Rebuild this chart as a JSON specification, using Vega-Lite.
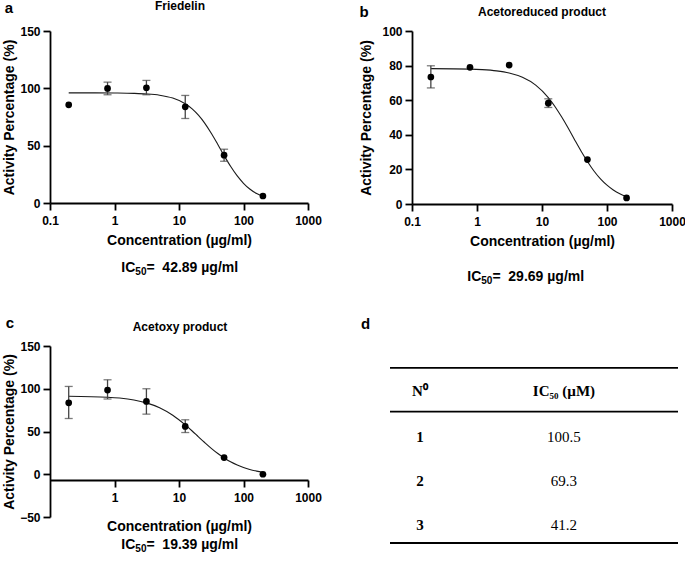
{
  "$schema": "https://vega.github.io/schema/vega-lite/v6.json",
  "padding": {"left": 2, "top": 0, "right": 0, "bottom": 0},
  "background": "white",
  "datasets": {
    "a": [
      {"kind": "fit", "conc": 0.195, "act": 96.0},
      {"kind": "fit", "conc": 0.5, "act": 96.0},
      {"kind": "fit", "conc": 1, "act": 95.9},
      {"kind": "fit", "conc": 2, "act": 95.6},
      {"kind": "fit", "conc": 3.125, "act": 95.1},
      {"kind": "fit", "conc": 5, "act": 94.0},
      {"kind": "fit", "conc": 8, "act": 91.5},
      {"kind": "fit", "conc": 12.5, "act": 86.6},
      {"kind": "fit", "conc": 16, "act": 82.1},
      {"kind": "fit", "conc": 20, "act": 76.6},
      {"kind": "fit", "conc": 25, "act": 69.7},
      {"kind": "fit", "conc": 32, "act": 60.4},
      {"kind": "fit", "conc": 40, "act": 51.0},
      {"kind": "fit", "conc": 50, "act": 41.4},
      {"kind": "fit", "conc": 63, "act": 32.0},
      {"kind": "fit", "conc": 80, "act": 23.6},
      {"kind": "fit", "conc": 100, "act": 17.2},
      {"kind": "fit", "conc": 125, "act": 12.2},
      {"kind": "fit", "conc": 160, "act": 8.2},
      {"kind": "fit", "conc": 200, "act": 5.65},
      {"kind": "obs", "conc": 0.195, "act": 85.6, "lo": null, "hi": null},
      {"kind": "obs", "conc": 0.78, "act": 99.9, "lo": 94.4, "hi": 105.4},
      {"kind": "obs", "conc": 3.125, "act": 100.5, "lo": 94.4, "hi": 106.9},
      {"kind": "obs", "conc": 12.5, "act": 83.9, "lo": 73.7, "hi": 93.8},
      {"kind": "obs", "conc": 50, "act": 41.7, "lo": 36.4, "hi": 46.9},
      {"kind": "obs", "conc": 200, "act": 6.1, "lo": null, "hi": null}
    ],
    "b": [
      {"kind": "fit", "conc": 0.195, "act": 78.26},
      {"kind": "fit", "conc": 0.78, "act": 77.97},
      {"kind": "fit", "conc": 1.2, "act": 77.67},
      {"kind": "fit", "conc": 2, "act": 76.95},
      {"kind": "fit", "conc": 3.125, "act": 75.7},
      {"kind": "fit", "conc": 5, "act": 73.2},
      {"kind": "fit", "conc": 8, "act": 68.7},
      {"kind": "fit", "conc": 12.5, "act": 61.5},
      {"kind": "fit", "conc": 16, "act": 56.1},
      {"kind": "fit", "conc": 20, "act": 50.4},
      {"kind": "fit", "conc": 25, "act": 44.2},
      {"kind": "fit", "conc": 32, "act": 36.9},
      {"kind": "fit", "conc": 40, "act": 30.5},
      {"kind": "fit", "conc": 50, "act": 24.6},
      {"kind": "fit", "conc": 63, "act": 19.1},
      {"kind": "fit", "conc": 80, "act": 14.4},
      {"kind": "fit", "conc": 100, "act": 10.9},
      {"kind": "fit", "conc": 125, "act": 8.1},
      {"kind": "fit", "conc": 160, "act": 5.8},
      {"kind": "fit", "conc": 200, "act": 4.2},
      {"kind": "obs", "conc": 0.195, "act": 73.4, "lo": 67.1, "hi": 79.9},
      {"kind": "obs", "conc": 0.78, "act": 79.0, "lo": null, "hi": null},
      {"kind": "obs", "conc": 3.125, "act": 80.3, "lo": null, "hi": null},
      {"kind": "obs", "conc": 12.5, "act": 58.3, "lo": 55.8, "hi": 60.8},
      {"kind": "obs", "conc": 50, "act": 25.7, "lo": null, "hi": null},
      {"kind": "obs", "conc": 200, "act": 3.5, "lo": null, "hi": null}
    ],
    "c": [
      {"kind": "fit", "conc": 0.195, "act": 91.3},
      {"kind": "fit", "conc": 0.78, "act": 90.1},
      {"kind": "fit", "conc": 1.2, "act": 89.1},
      {"kind": "fit", "conc": 2, "act": 86.9},
      {"kind": "fit", "conc": 3.125, "act": 83.5},
      {"kind": "fit", "conc": 5, "act": 77.8},
      {"kind": "fit", "conc": 8, "act": 69.0},
      {"kind": "fit", "conc": 12.5, "act": 57.7},
      {"kind": "fit", "conc": 16, "act": 50.6},
      {"kind": "fit", "conc": 20, "act": 43.8},
      {"kind": "fit", "conc": 25, "act": 37.1},
      {"kind": "fit", "conc": 32, "act": 30.0},
      {"kind": "fit", "conc": 40, "act": 24.2},
      {"kind": "fit", "conc": 50, "act": 19.1},
      {"kind": "fit", "conc": 63, "act": 14.6},
      {"kind": "fit", "conc": 80, "act": 10.8},
      {"kind": "fit", "conc": 100, "act": 7.9},
      {"kind": "fit", "conc": 125, "act": 5.6},
      {"kind": "fit", "conc": 160, "act": 3.7},
      {"kind": "fit", "conc": 200, "act": 2.3},
      {"kind": "obs", "conc": 0.195, "act": 83.6, "lo": 65.2, "hi": 102.7},
      {"kind": "obs", "conc": 0.78, "act": 98.4, "lo": 88.0, "hi": 110.5},
      {"kind": "obs", "conc": 3.125, "act": 85.2, "lo": 70.3, "hi": 100.0},
      {"kind": "obs", "conc": 12.5, "act": 55.9, "lo": 48.8, "hi": 63.7},
      {"kind": "obs", "conc": 50, "act": 19.5, "lo": null, "hi": null},
      {"kind": "obs", "conc": 200, "act": 0.0, "lo": null, "hi": null}
    ],
    "table": [
      {"No": "1", "IC50": "100.5"},
      {"No": "2", "IC50": "69.3"},
      {"No": "3", "IC50": "41.2"}
    ],
    "one": [{}]
  },
  "vconcat": [
    {
      "hconcat": [
        {
          "width": 258,
          "height": 172,
          "layer": [
            {"data": {"name": "a"}, "transform": [{"filter": "datum.kind === 'fit'"}],
             "mark": {"type": "line", "color": "#1a1a1a", "strokeWidth": 1.1, "interpolate": "monotone"},
             "encoding": {
               "x": {"field": "conc", "type": "quantitative", "scale": {"type": "log", "domain": [0.1, 1000], "nice": false},
                     "axis": {"values": [0.1, 1, 10, 100, 1000], "format": "~g", "title": "Concentration (µg/ml)", "titlePadding": 7}},
               "y": {"field": "act", "type": "quantitative", "scale": {"domain": [0, 150], "nice": false},
                     "axis": {"values": [0, 50, 100, 150], "title": "Activity Percentage (%)", "titlePadding": 3, "labelPadding": 3}}
             }},
            {"data": {"name": "a"}, "transform": [{"filter": "datum.kind === 'obs' && datum.lo != null"}],
             "mark": {"type": "errorbar", "color": "#444", "thickness": 1.3, "ticks": {"size": 8, "thickness": 1.3, "color": "#444"}},
             "encoding": {
               "x": {"field": "conc", "type": "quantitative", "axis": {"values": [0.1, 1, 10, 100, 1000], "format": "~g", "title": "Concentration (µg/ml)", "titlePadding": 7}},
               "y": {"field": "lo", "type": "quantitative", "axis": {"values": [0, 50, 100, 150], "title": "Activity Percentage (%)", "titlePadding": 3, "labelPadding": 3}},
               "y2": {"field": "hi"}}},
            {"data": {"name": "a"}, "transform": [{"filter": "datum.kind === 'obs'"}],
             "mark": {"type": "circle", "size": 45, "color": "#000", "opacity": 1},
             "encoding": {
               "x": {"field": "conc", "type": "quantitative", "axis": {"values": [0.1, 1, 10, 100, 1000], "format": "~g", "title": "Concentration (µg/ml)", "titlePadding": 7}},
               "y": {"field": "act", "type": "quantitative", "axis": {"values": [0, 50, 100, 150], "title": "Activity Percentage (%)", "titlePadding": 3, "labelPadding": 3}}}},
            {"data": {"name": "one"}, "mark": {"type": "text", "text": "a", "fontSize": 15, "fontWeight": "bold", "font": "Liberation Sans"},
             "encoding": {"x": {"datum": 0.0231, "type": "quantitative"}, "y": {"datum": 170, "type": "quantitative"}}},
            {"data": {"name": "one"}, "mark": {"type": "text", "text": "Friedelin", "fontSize": 12, "fontWeight": "bold", "font": "Liberation Sans"},
             "encoding": {"x": {"datum": 10.37, "type": "quantitative"}, "y": {"datum": 171.8, "type": "quantitative"}}},
            {"data": {"name": "one"}, "mark": {"type": "text", "text": "IC", "align": "left", "dx": -58.7, "fontSize": 14, "fontWeight": "bold", "font": "Liberation Sans"},
             "encoding": {"x": {"datum": 10.37, "type": "quantitative"}, "y": {"datum": -56.7, "type": "quantitative"}}},
            {"data": {"name": "one"}, "mark": {"type": "text", "text": "50", "align": "left", "dx": -44.7, "dy": 4, "fontSize": 10, "fontWeight": "bold", "font": "Liberation Sans"},
             "encoding": {"x": {"datum": 10.37, "type": "quantitative"}, "y": {"datum": -56.7, "type": "quantitative"}}},
            {"data": {"name": "one"}, "mark": {"type": "text", "text": "=\u00a0\u00a042.89 µg/ml", "align": "left", "dx": -33.6, "fontSize": 14, "fontWeight": "bold", "font": "Liberation Sans"},
             "encoding": {"x": {"datum": 10.37, "type": "quantitative"}, "y": {"datum": -56.7, "type": "quantitative"}}}
          ]
        },
        {
          "width": 260,
          "height": 173,
          "layer": [
            {"data": {"name": "b"}, "transform": [{"filter": "datum.kind === 'fit'"}],
             "mark": {"type": "line", "color": "#1a1a1a", "strokeWidth": 1.1, "interpolate": "monotone"},
             "encoding": {
               "x": {"field": "conc", "type": "quantitative", "scale": {"type": "log", "domain": [0.1, 1000], "nice": false},
                     "axis": {"values": [0.1, 1, 10, 100, 1000], "format": "~g", "title": "Concentration (µg/ml)", "titlePadding": 7}},
               "y": {"field": "act", "type": "quantitative", "scale": {"domain": [0, 100], "nice": false},
                     "axis": {"values": [0, 20, 40, 60, 80, 100], "tickCount": 6, "title": "Activity Percentage (%)", "titlePadding": 8, "labelPadding": 3}}
             }},
            {"data": {"name": "b"}, "transform": [{"filter": "datum.kind === 'obs' && datum.lo != null"}],
             "mark": {"type": "errorbar", "color": "#444", "thickness": 1.3, "ticks": {"size": 8, "thickness": 1.3, "color": "#444"}},
             "encoding": {
               "x": {"field": "conc", "type": "quantitative", "axis": {"values": [0.1, 1, 10, 100, 1000], "format": "~g", "title": "Concentration (µg/ml)", "titlePadding": 7}},
               "y": {"field": "lo", "type": "quantitative", "axis": {"values": [0, 20, 40, 60, 80, 100], "tickCount": 6, "title": "Activity Percentage (%)", "titlePadding": 8, "labelPadding": 3}},
               "y2": {"field": "hi"}}},
            {"data": {"name": "b"}, "transform": [{"filter": "datum.kind === 'obs'"}],
             "mark": {"type": "circle", "size": 45, "color": "#000", "opacity": 1},
             "encoding": {
               "x": {"field": "conc", "type": "quantitative", "axis": {"values": [0.1, 1, 10, 100, 1000], "format": "~g", "title": "Concentration (µg/ml)", "titlePadding": 7}},
               "y": {"field": "act", "type": "quantitative", "axis": {"values": [0, 20, 40, 60, 80, 100], "tickCount": 6, "title": "Activity Percentage (%)", "titlePadding": 8, "labelPadding": 3}}}},
            {"data": {"name": "one"}, "mark": {"type": "text", "text": "b", "fontSize": 15, "fontWeight": "bold", "font": "Liberation Sans"},
             "encoding": {"x": {"datum": 0.01827, "type": "quantitative"}, "y": {"datum": 111.0, "type": "quantitative", "axis": {"values": [0, 20, 40, 60, 80, 100], "tickCount": 6, "title": "Activity Percentage (%)", "titlePadding": 8, "labelPadding": 3}}}},
            {"data": {"name": "one"}, "mark": {"type": "text", "text": "Acetoreduced product", "fontSize": 12, "fontWeight": "bold", "font": "Liberation Sans"},
             "encoding": {"x": {"datum": 10, "type": "quantitative"}, "y": {"datum": 111.0, "type": "quantitative", "axis": {"values": [0, 20, 40, 60, 80, 100], "tickCount": 6, "title": "Activity Percentage (%)", "titlePadding": 8, "labelPadding": 3}}}},
            {"data": {"name": "one"}, "mark": {"type": "text", "text": "IC", "align": "left", "dx": -58.7, "fontSize": 14, "fontWeight": "bold", "font": "Liberation Sans"},
             "encoding": {"x": {"datum": 5.67, "type": "quantitative"}, "y": {"datum": -42.2, "type": "quantitative", "axis": {"values": [0, 20, 40, 60, 80, 100], "tickCount": 6, "title": "Activity Percentage (%)", "titlePadding": 8, "labelPadding": 3}}}},
            {"data": {"name": "one"}, "mark": {"type": "text", "text": "50", "align": "left", "dx": -44.7, "dy": 4, "fontSize": 10, "fontWeight": "bold", "font": "Liberation Sans"},
             "encoding": {"x": {"datum": 5.67, "type": "quantitative"}, "y": {"datum": -42.2, "type": "quantitative", "axis": {"values": [0, 20, 40, 60, 80, 100], "tickCount": 6, "title": "Activity Percentage (%)", "titlePadding": 8, "labelPadding": 3}}}},
            {"data": {"name": "one"}, "mark": {"type": "text", "text": "=\u00a0\u00a029.69 µg/ml", "align": "left", "dx": -33.6, "fontSize": 14, "fontWeight": "bold", "font": "Liberation Sans"},
             "encoding": {"x": {"datum": 5.67, "type": "quantitative"}, "y": {"datum": -42.2, "type": "quantitative", "axis": {"values": [0, 20, 40, 60, 80, 100], "tickCount": 6, "title": "Activity Percentage (%)", "titlePadding": 8, "labelPadding": 3}}}}
          ]
        }
      ],
      "spacing": 37
    },
    {
      "hconcat": [
        {
          "width": 258,
          "height": 171,
          "layer": [
            {"data": {"name": "c"}, "transform": [{"filter": "datum.kind === 'fit'"}],
             "mark": {"type": "line", "color": "#1a1a1a", "strokeWidth": 1.1, "interpolate": "monotone"},
             "encoding": {
               "x": {"field": "conc", "type": "quantitative", "scale": {"type": "log", "domain": [0.1, 1000], "nice": false},
                     "axis": {"values": [1, 10, 100, 1000], "format": "~g", "title": "Concentration (µg/ml)", "titlePadding": 16, "offset": -37}},
               "y": {"field": "act", "type": "quantitative", "scale": {"domain": [-50, 150], "nice": false},
                     "axis": {"values": [-50, 0, 50, 100, 150], "title": "Activity Percentage (%)", "titlePadding": 3, "labelPadding": 3}}
             }},
            {"data": {"name": "c"}, "transform": [{"filter": "datum.kind === 'obs' && datum.lo != null"}],
             "mark": {"type": "errorbar", "color": "#444", "thickness": 1.3, "ticks": {"size": 8, "thickness": 1.3, "color": "#444"}},
             "encoding": {
               "x": {"field": "conc", "type": "quantitative", "axis": {"values": [1, 10, 100, 1000], "format": "~g", "title": "Concentration (µg/ml)", "titlePadding": 16, "offset": -37}},
               "y": {"field": "lo", "type": "quantitative", "axis": {"values": [-50, 0, 50, 100, 150], "title": "Activity Percentage (%)", "titlePadding": 3, "labelPadding": 3}},
               "y2": {"field": "hi"}}},
            {"data": {"name": "c"}, "transform": [{"filter": "datum.kind === 'obs'"}],
             "mark": {"type": "circle", "size": 45, "color": "#000", "opacity": 1},
             "encoding": {
               "x": {"field": "conc", "type": "quantitative", "axis": {"values": [1, 10, 100, 1000], "format": "~g", "title": "Concentration (µg/ml)", "titlePadding": 16, "offset": -37}},
               "y": {"field": "act", "type": "quantitative", "axis": {"values": [-50, 0, 50, 100, 150], "title": "Activity Percentage (%)", "titlePadding": 3, "labelPadding": 3}}}},
            {"data": {"name": "one"}, "mark": {"type": "text", "text": "c", "fontSize": 15, "fontWeight": "bold", "font": "Liberation Sans"},
             "encoding": {"x": {"datum": 0.024, "type": "quantitative"}, "y": {"datum": 176.9, "type": "quantitative"}}},
            {"data": {"name": "one"}, "mark": {"type": "text", "text": "Acetoxy product", "fontSize": 12, "fontWeight": "bold", "font": "Liberation Sans"},
             "encoding": {"x": {"datum": 10.37, "type": "quantitative"}, "y": {"datum": 172.2, "type": "quantitative"}}},
            {"data": {"name": "one"}, "mark": {"type": "text", "text": "IC", "align": "left", "dx": -58.7, "fontSize": 14, "fontWeight": "bold", "font": "Liberation Sans"},
             "encoding": {"x": {"datum": 10.37, "type": "quantitative"}, "y": {"datum": -82.7, "type": "quantitative"}}},
            {"data": {"name": "one"}, "mark": {"type": "text", "text": "50", "align": "left", "dx": -44.7, "dy": 4, "fontSize": 10, "fontWeight": "bold", "font": "Liberation Sans"},
             "encoding": {"x": {"datum": 10.37, "type": "quantitative"}, "y": {"datum": -82.7, "type": "quantitative"}}},
            {"data": {"name": "one"}, "mark": {"type": "text", "text": "=\u00a0\u00a019.39 µg/ml", "align": "left", "dx": -33.6, "fontSize": 14, "fontWeight": "bold", "font": "Liberation Sans"},
             "encoding": {"x": {"datum": 10.37, "type": "quantitative"}, "y": {"datum": -82.7, "type": "quantitative"}}}
          ]
        },
        {
          "width": 288,
          "height": 197,
          "title": {"text": "d", "anchor": "start", "dx": -29, "offset": 14, "fontSize": 15},
          "data": {"name": "table"},
          "layer": [
            {"data": {"name": "one"}, "mark": {"type": "rule", "color": "#000", "strokeWidth": 1.8},
             "encoding": {"y": {"datum": "top", "type": "ordinal",
               "scale": {"type": "point", "domain": ["pre", "top", "head", "sep", "1", "g1", "2", "g2", "3", "bottom"], "padding": 0}, "axis": null}}},
            {"data": {"name": "one"}, "mark": {"type": "rule", "color": "#000", "strokeWidth": 1.8},
             "encoding": {"y": {"datum": "sep", "type": "ordinal"}}},
            {"data": {"name": "one"}, "mark": {"type": "rule", "color": "#000", "strokeWidth": 1.8},
             "encoding": {"y": {"datum": "bottom", "type": "ordinal"}}},
            {"data": {"name": "one"}, "mark": {"type": "text", "text": "N⁰", "font": "Liberation Serif", "fontSize": 15, "fontWeight": "bold", "dy": 1.5},
             "encoding": {"x": {"datum": 0.104, "type": "quantitative", "scale": {"domain": [0, 1]}, "axis": null}, "y": {"datum": "head", "type": "ordinal"}}},
            {"data": {"name": "one"}, "mark": {"type": "text", "text": "IC₅₀ (µM)", "font": "Liberation Serif", "fontSize": 15, "fontWeight": "bold", "dy": 1.5},
             "encoding": {"x": {"datum": 0.604, "type": "quantitative"}, "y": {"datum": "head", "type": "ordinal"}}},
            {"mark": {"type": "text", "font": "Liberation Serif", "fontSize": 15, "fontWeight": "bold", "dy": 3.5},
             "encoding": {"x": {"datum": 0.104, "type": "quantitative"}, "y": {"field": "No", "type": "ordinal"}, "text": {"field": "No"}}},
            {"mark": {"type": "text", "font": "Liberation Serif", "fontSize": 15, "dy": 3.5},
             "encoding": {"x": {"datum": 0.604, "type": "quantitative"}, "y": {"field": "No", "type": "ordinal"}, "text": {"field": "IC50"}}}
          ]
        }
      ],
      "spacing": 39
    }
  ],
  "spacing": 29,
  "config": {
    "font": "Liberation Sans",
    "view": {"stroke": null},
    "axis": {
      "labelFont": "Liberation Sans", "labelFontSize": 12, "labelFontWeight": "bold", "labelColor": "#000",
      "titleFont": "Liberation Sans", "titleFontSize": 14, "titleFontWeight": "bold", "titleColor": "#000",
      "domainColor": "#000", "domainWidth": 1.8, "tickColor": "#000", "tickWidth": 1.8, "tickSize": 7,
      "grid": false, "labelPadding": 5, "labelFlush": false, "labelOverlap": false
    },
    "title": {"font": "Liberation Sans", "fontSize": 12, "fontWeight": "bold", "color": "#000", "anchor": "middle", "frame": "group"}
  }
}
